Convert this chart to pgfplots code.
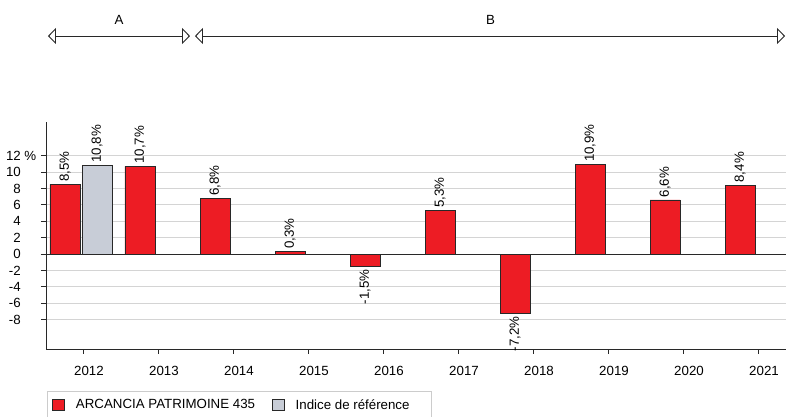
\documentclass[border=0pt]{standalone}
\usepackage{fontspec}
\setmainfont{Liberation Sans}
\usepackage{pgfplots}
\pgfplotsset{compat=1.18}
\usetikzlibrary{arrows.meta}
\definecolor{barred}{RGB}{237,28,36}
\definecolor{bargray}{RGB}{200,205,215}
\definecolor{gridgray}{RGB}{212,212,212}
\definecolor{axdark}{RGB}{40,40,40}
\pgfplotsset{sqlegend/.style={legend image code/.code={\draw[##1] (0pt,-5.5pt) rectangle (12pt,5.5pt);}}}
\begin{document}
\begin{tikzpicture}[x=1pt,y=1pt,font=\fontsize{13.3}{16}\selectfont]
\useasboundingbox (0,0) rectangle (786,417);
\begin{axis}[
  at={(46pt,68pt)}, anchor=south west,
  scale only axis, width=740pt, height=227pt,
  xmin=-0.4933, xmax=9.3733, ymin=-11.6, ymax=16.12,
  axis x line*=bottom, axis y line*=left,
  axis line style={axdark, line width=0.8pt, -},
  clip=false,
  xtick={0,1,2,3,4,5,6,7,8,9},
  xticklabels={2012,2013,2014,2015,2016,2017,2018,2019,2020,2021},
  ytick={-8,-6,-4,-2,0,2,4,6,8,10,12},
  yticklabels={-8,-6,-4,-2,0,2,4,6,8,10,12\rlap{ \%}},
  major tick length=5pt,
  tick align=outside,
  tick style={axdark, line width=0.8pt},
  ymajorgrids, grid style={gridgray, line width=0.8pt},
  extra y ticks={0}, extra y tick labels={},
  extra y tick style={grid style={axdark, line width=0.8pt}},
  x tick label style={anchor=north, inner sep=0pt, yshift=-12pt, xshift=6pt},
  y tick label style={anchor=east, inner sep=0pt, xshift=-20pt},
  ybar, bar width=30pt,
  legend columns=2,
  legend cell align=left,
  legend style={at={(0.00135,-0.185)}, anchor=north west, draw=gray!40, line width=0.8pt,
    inner xsep=5pt, inner ysep=6pt,
    /tikz/every odd column/.append style={column sep=9pt},
    /tikz/every even column/.append style={column sep=15pt}},
]
\addplot[fill=barred, draw=axdark, line width=0.6pt, bar shift=-18pt, sqlegend,
  nodes near coords, point meta=explicit symbolic,
  nodes near coords style={rotate=90, anchor=west, inner sep=2.5pt, text=black}]
  coordinates {(0,8.5)[8,5\%] (1,10.7)[10,7\%] (2,6.8)[6,8\%] (3,0.3)[0,3\%]
               (5,5.3)[5,3\%] (7,10.9)[10,9\%] (8,6.6)[6,6\%] (9,8.4)[8,4\%]};
\addlegendentry{ARCANCIA PATRIMOINE 435}
\addplot[fill=bargray, draw=axdark, line width=0.6pt, bar shift=14pt, sqlegend,
  nodes near coords, point meta=explicit symbolic,
  nodes near coords style={rotate=90, anchor=west, inner sep=2.5pt, text=black}]
  coordinates {(0,10.8)[10,8\%]};
\addlegendentry{Indice de référence\rule{15pt}{0pt}}
\addplot[fill=barred, draw=axdark, line width=0.6pt, bar shift=-18pt, forget plot,
  nodes near coords, point meta=explicit symbolic,
  nodes near coords style={rotate=90, anchor=east, inner sep=3pt, text=black}]
  coordinates {(4,-1.5)[-1,5\%] (6,-7.2)[-7,2\%]};
\draw[axdark, line width=0.9pt, {Triangle[open,length=8pt,width=16pt]}-{Triangle[open,length=8pt,width=16pt]}]
  (axis cs:-0.4667,26.62) -- (axis cs:1.4267,26.62);
\draw[axdark, line width=0.9pt, {Triangle[open,length=8pt,width=16pt]}-{Triangle[open,length=8pt,width=16pt]}]
  (axis cs:1.4933,26.62) -- (axis cs:9.36,26.62);
\node[anchor=base] at (axis cs:0.48,28.08) {A};
\node[anchor=base] at (axis cs:5.433,28.08) {B};
\end{axis}
\end{tikzpicture}
\end{document}
